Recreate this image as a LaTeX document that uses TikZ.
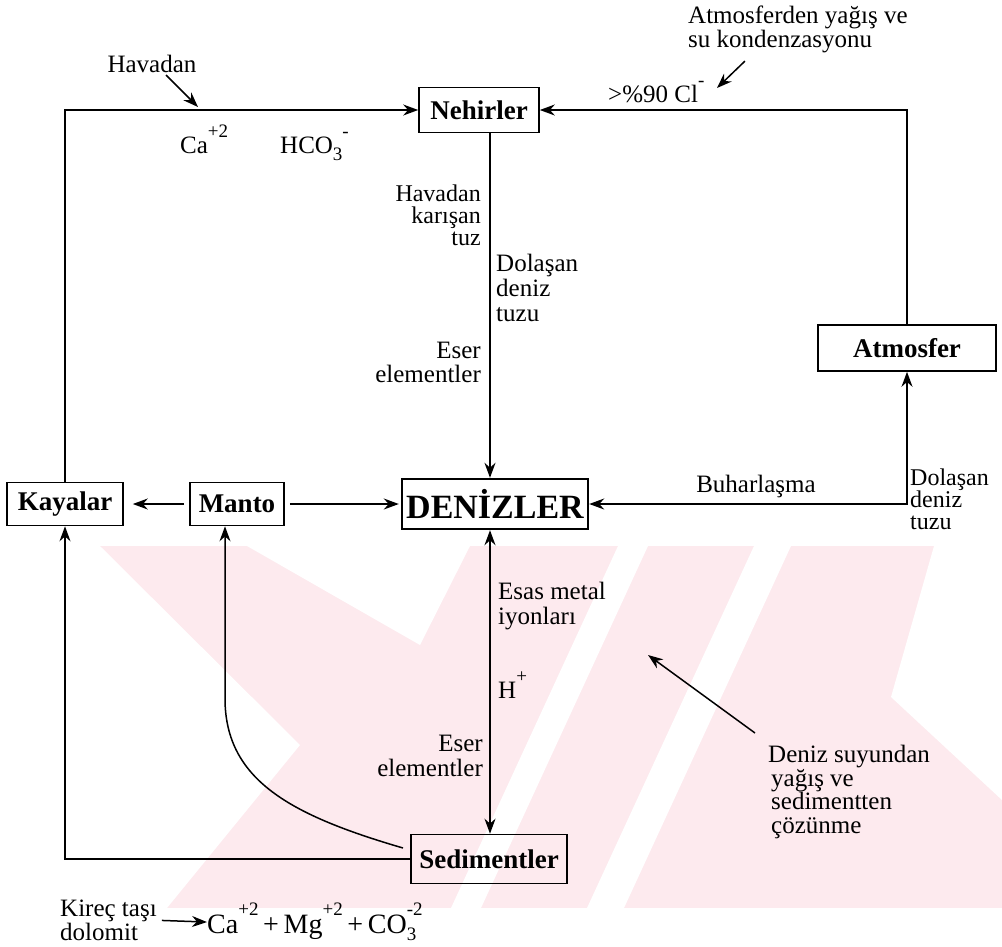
\documentclass[tikz,border=0pt]{standalone}
\usepackage{fontspec}
\setmainfont{Liberation Serif}
\usetikzlibrary{arrows.meta}
\definecolor{wm}{RGB}{253,234,238}
\newcommand\supx[1]{\raisebox{0.62em}{\fontsize{19}{19}\selectfont #1}}
\newcommand\subx[1]{\raisebox{-0.28em}{\fontsize{19}{19}\selectfont #1}}
\newcommand\stkx[2]{\makebox[0pt][l]{\raisebox{0.62em}{\fontsize{19}{19}\selectfont #2}}\raisebox{-0.28em}{\fontsize{19}{19}\selectfont #1}}
\begin{document}
\begin{tikzpicture}[x=1pt,y=-1pt,
  lbl/.style={inner sep=0pt, font=\fontsize{25}{25}\selectfont},
  box/.style={draw, line width=1.6pt, inner sep=0pt, minimum height=45pt,
    font=\bfseries\fontsize{27}{27}\selectfont},
  arr/.style={line width=1.5pt, -{Stealth[length=15pt,width=11pt]}},
  arrb/.style={line width=1.5pt, {Stealth[length=15pt,width=11pt]}-{Stealth[length=15pt,width=11pt]}},
  wmw/.style={fill=white}]
\useasboundingbox (0,0) rectangle (1002,946);
% watermark
\begin{scope}
\clip (100,546) rectangle (1002,908);
\fill[wm] (100,546) rectangle (1002,908);
\fill[wmw] (247,546) -- (470,546) -- (420,645) -- cycle;
\fill[wmw] (618,546) -- (648,546) -- (481,908) -- (451,908) -- cycle;
\fill[wmw] (754,546) -- (791,546) -- (624,908) -- (587,908) -- cycle;
\fill[wmw] (934,546) -- (1002,546) -- (1002,800) -- (891,697) -- cycle;
\fill[wmw] (100,546) -- (300,745) -- (167,908) -- (100,908) -- cycle;
\end{scope}
% boxes
\node[box, minimum width=120pt] (neh) at (479,110) {Nehirler};
\node[box, minimum width=116pt, minimum height=43pt] (kay) at (65,504) {Kayalar};
\node[box, minimum width=94pt, minimum height=43pt] (man) at (237,504) {Manto};
\node[box, minimum width=186pt, minimum height=50pt, line width=2.4pt,
  font=\bfseries\fontsize{34}{34}\selectfont] (den) at (495,504) {DENİZLER};
\node[box, minimum width=178pt, minimum height=46pt] (atm) at (907,348) {Atmosfer};
\node[box, minimum width=156pt, minimum height=49pt] (sed) at (489,859) {Sedimentler};
\coordinate (vx) at (490,0);
% labels
\node[lbl] (hav) at (152,64) {Havadan};
\node[lbl, anchor=base west] (ca) at (180,153) {Ca\supx{+2}};
\node[lbl, anchor=base west] (hco) at (280,153) {HCO\subx{3}\supx{-}};
\node[lbl, anchor=base west] (cl) at (608,102) {>\%90 Cl\supx{-}};
\node[lbl, anchor=north west, align=left, font=\fontsize{25}{21}\selectfont] (atl) at (688,6)
  {Atmosferden yağış ve\\su kondenzasyonu};
\node[lbl, anchor=north east, align=right, font=\fontsize{24}{22}\selectfont] (hkt) at (481,185)
  {Havadan\\karışan\\tuz};
\node[lbl, anchor=north west, align=left, font=\fontsize{25}{25}\selectfont] (dd1) at (496,254)
  {Dolaşan\\deniz\\tuzu};
\node[lbl, anchor=north east, align=right, font=\fontsize{25}{24}\selectfont] (ee1) at (481,342)
  {Eser\\elementler};
\node[lbl, anchor=base] (buh) at (756,492) {Buharlaşma};
\node[lbl, anchor=north west, align=left, font=\fontsize{24}{22}\selectfont] (dd2) at (910,469)
  {Dolaşan\\deniz\\tuzu};
\node[lbl, anchor=north west, align=left, font=\fontsize{25}{25}\selectfont] (esa) at (498,582)
  {Esas metal\\iyonları};
\node[lbl, anchor=base west] (hp) at (498,698) {H\supx{+}};
\node[lbl, anchor=north east, align=right, font=\fontsize{25}{25}\selectfont] (ee2) at (483,735)
  {Eser\\elementler};
\node[lbl, anchor=north west, align=left, font=\fontsize{25}{23.5}\selectfont] (dz) at (768,745)
  {Deniz suyundan\\\hspace*{3pt}yağış ve\\\hspace*{3pt}sedimentten\\\hspace*{3pt}çözünme};
\node[lbl, anchor=north west, align=left, font=\fontsize{25}{19}\selectfont] (kir) at (60,900)
  {Kireç taşı\\dolomit};
\node[lbl, anchor=base west, font=\fontsize{28}{28}\selectfont] (eq) at (207,933)
  {Ca\supx{+2}\,+\,Mg\supx{+2}\,+\,CO\stkx{3}{-2}};
% free ends
\coordinate (havtip) at (198,107);
\coordinate (cltip) at (717,88);
\coordinate (dztip) at (648,655);
\coordinate (cs) at (403,848);
\coordinate (cm) at (225,700);
% connectors
\draw[arr] (kay.north) |- (neh.west);
\draw[arr] (atm.north) |- (neh.east);
\draw[arr] (neh.south -| vx) -- (den.north -| vx);
\draw[arrb] (den.south -| vx) -- (sed.north -| vx);
\draw[arrb] (den.east) -| (atm.south);
\draw[arr, shorten <=5pt, shorten >=9pt] (man.west) -- (kay.east);
\draw[arr, shorten <=5pt, shorten >=2pt] (man.east) -- (den.west);
\draw[arr] (sed.west) -| (kay.south);
\draw[arr] (cs) .. controls (290,815) and (226,780) .. (cm) -- (cm |- man.south);
\draw[arr] ([xshift=14pt,yshift=-2pt]hav.south) -- (havtip);
\draw[arr] ([xshift=-53pt,yshift=-8pt]atl.south) -- (cltip);
\draw[arr] ([xshift=-13pt,yshift=12pt]dz.north west) -- (dztip);
\draw[arr] ([xshift=5pt]kir.east) -- (eq.west);
\end{tikzpicture}
\end{document}
